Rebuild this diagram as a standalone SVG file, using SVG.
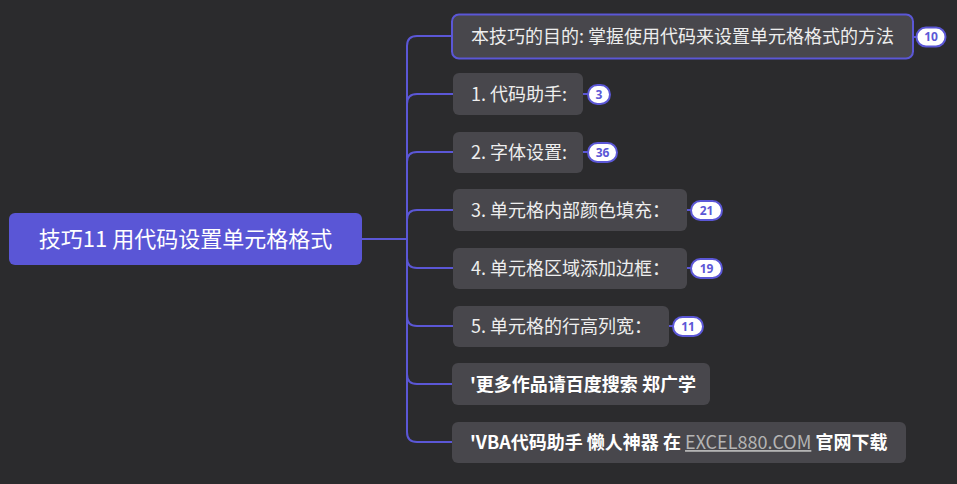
<svg xmlns="http://www.w3.org/2000/svg" width="957" height="484" viewBox="0 0 957 484">
<style>
.bg{fill:#2b2b2d}
.node{fill:#48474c}
.t{font-family:"Noto Sans CJK SC","Noto Sans",sans-serif;font-size:18px;fill:#eeeeee}
.b{font-weight:bold;fill:#ffffff}
.badge{fill:#ffffff;stroke:#5b57d6;stroke-width:2}
.bt{font-family:"Noto Sans","Liberation Sans",sans-serif;font-size:12px;font-weight:bold;fill:#5b57d6;text-anchor:middle}
.c{fill:none;stroke:#5b57d6;stroke-width:2}
</style>
<rect class="bg" x="0" y="0" width="957" height="484"/>
<g id="connectors">
<path class="c" d="M362 239 H407 V46 Q407 36 417 36 H452"/>
<path class="c" d="M407 104 Q407 94 417 94 H453"/>
<path class="c" d="M407 162 Q407 152 417 152 H453"/>
<path class="c" d="M407 220 Q407 210 417 210 H453"/>
<path class="c" d="M407 239 V258 Q407 268 417 268 H453"/>
<path class="c" d="M407 316 Q407 326 417 326 H453"/>
<path class="c" d="M407 374 Q407 384 417 384 H452"/>
<path class="c" d="M407 258 V432 Q407 442 417 442 H452"/>
<path class="c" d="M913 37 H916"/>
<path class="c" d="M583 94 H588"/>
<path class="c" d="M583 152 H588"/>
<path class="c" d="M687 210 H691"/>
<path class="c" d="M687 268 H691"/>
<path class="c" d="M669 326 H673"/>
</g>
<g id="root">
<rect x="9" y="213" width="353" height="52" rx="6" fill="#5a56d6"/>
<text class="t" x="185.5" y="247" text-anchor="middle" style="font-size:22px;fill:#ffffff">技巧11 用代码设置单元格格式</text>
</g>
<g id="n0">
<rect class="node" x="452" y="14.5" width="461" height="44" rx="7" stroke="#5b57d6" stroke-width="2"/>
<text class="t" x="471" y="43">本技巧的目的: 掌握使用代码来设置单元格格式的方法</text>
<rect class="badge" x="916.5" y="27.5" width="29" height="19" rx="9.5"/>
<text class="bt" x="931" y="41.3">10</text>
</g>
<g id="n1">
<rect class="node" x="453" y="73" width="130" height="42" rx="6"/>
<text class="t" x="471" y="100.5">1. 代码助手:</text>
<rect class="badge" x="588" y="85" width="22" height="19" rx="9.5"/>
<text class="bt" x="599" y="98.8">3</text>
</g>
<g id="n2">
<rect class="node" x="453" y="132" width="130" height="41" rx="6"/>
<text class="t" x="471" y="159">2. 字体设置:</text>
<rect class="badge" x="588" y="143" width="29" height="19" rx="9.5"/>
<text class="bt" x="602.5" y="156.8">36</text>
</g>
<g id="n3">
<rect class="node" x="453" y="189" width="234" height="42" rx="6"/>
<text class="t" x="471" y="216.5">3. 单元格内部颜色填充：</text>
<rect class="badge" x="691" y="201" width="31" height="19" rx="9.5"/>
<text class="bt" x="706.5" y="214.8">21</text>
</g>
<g id="n4">
<rect class="node" x="453" y="248" width="234" height="41" rx="6"/>
<text class="t" x="471" y="275">4. 单元格区域添加边框：</text>
<rect class="badge" x="691" y="259" width="31" height="19" rx="9.5"/>
<text class="bt" x="706.5" y="272.8">19</text>
</g>
<g id="n5">
<rect class="node" x="453" y="306" width="216" height="41" rx="6"/>
<text class="t" x="471" y="333">5. 单元格的行高列宽：</text>
<rect class="badge" x="673" y="317" width="30" height="19" rx="9.5"/>
<text class="bt" x="688" y="330.8">11</text>
</g>
<g id="n6">
<rect class="node" x="452" y="363" width="258" height="42" rx="6"/>
<text class="t b" x="470" y="390.5">'更多作品请百度搜索 郑广学</text>
</g>
<g id="n7">
<rect class="node" x="452" y="422" width="454" height="41" rx="6"/>
<text class="t b" x="470" y="449">'VBA代码助手 懒人神器 在 <tspan style="font-weight:normal;fill:#b4b4b4;text-decoration:underline">EXCEL880.COM</tspan> 官网下载</text>
</g>
</svg>
